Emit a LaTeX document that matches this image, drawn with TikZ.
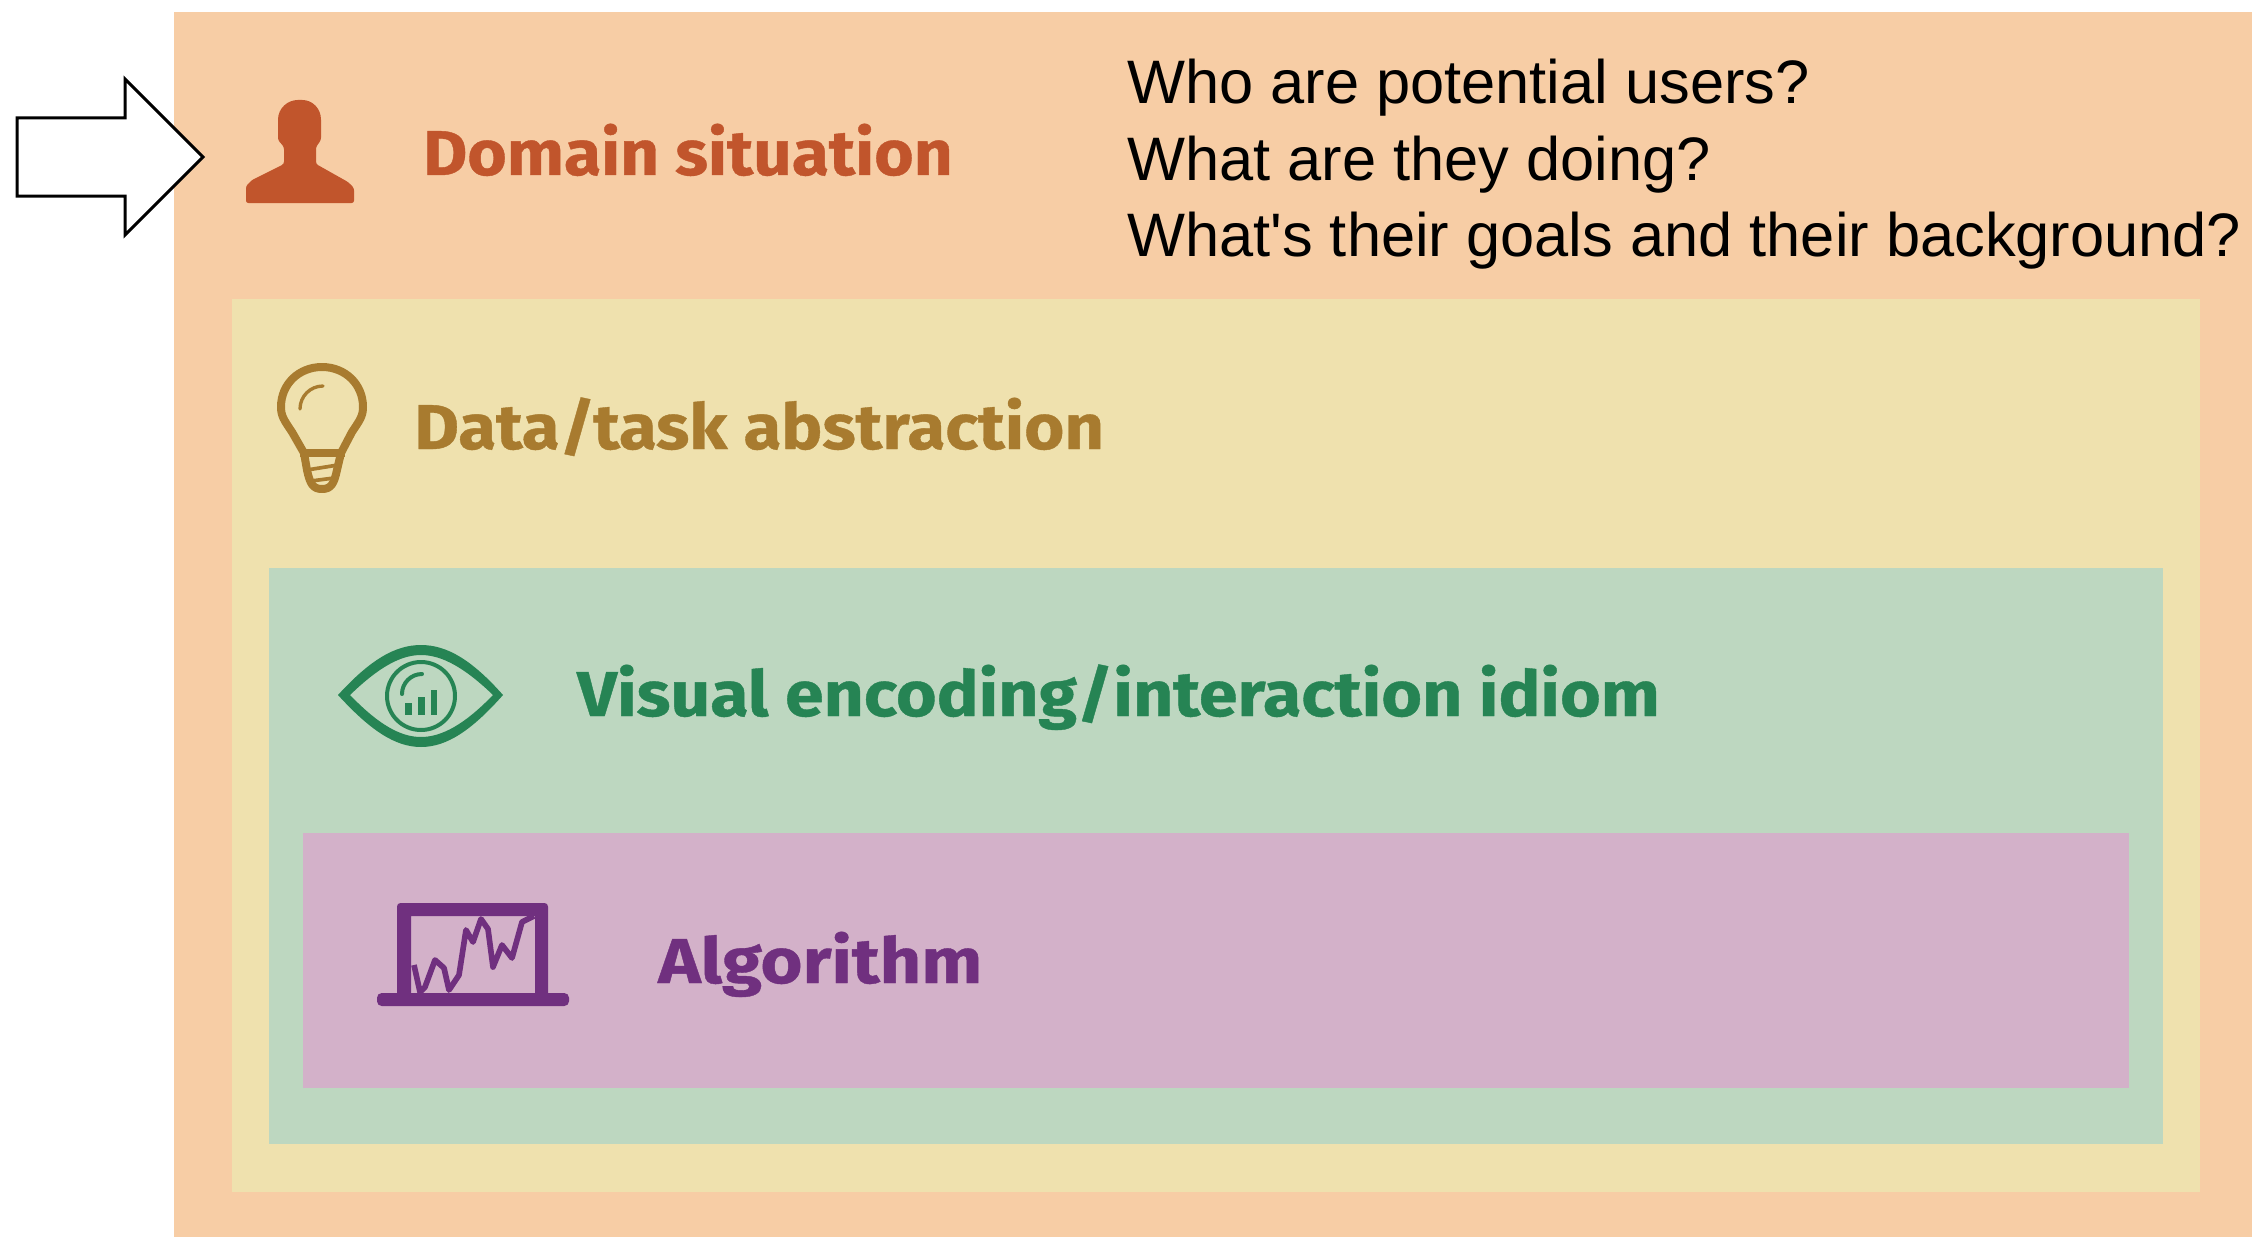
\documentclass[tikz,border=0pt]{standalone}
\usepackage{graphicx}
\usepackage{fontspec}
\setmainfont{Liberation Sans}
\newfontfamily\qfont{Liberation Sans}
\newfontfamily\headfont[FakeStretch=1.07,FakeBold=0.6]{Fira Sans}
\definecolor{cOrange}{HTML}{F7CDA5}
\definecolor{cYellow}{HTML}{EFE1AE}
\definecolor{cGreen}{HTML}{BDD7C0}
\definecolor{cPurple}{HTML}{D3B1C9}
\definecolor{tOrange}{HTML}{C1552C}
\definecolor{tGold}{HTML}{A87B2F}
\definecolor{tGreen}{HTML}{268454}
\definecolor{tPurple}{HTML}{70307F}
\tikzset{
  x=0.03cm,y=-0.03cm,
  band/.style={fill=#1,draw=none},
  title/.style={anchor=base west,inner sep=0pt,font=\headfont\bfseries\fontsize{54}{60}\selectfont,text=#1},
  question/.style={anchor=base west,inner sep=0pt,font=\qfont\fontsize{52.4}{60}\selectfont,text=black},
}
\begin{document}
\begin{tikzpicture}
\useasboundingbox (0,0) rectangle (2252,1237);
\fill[white] (0,0) rectangle (2252,1237);
% nested bands
\path[band=cOrange] (174,12) rectangle (2252,1237);
\path[band=cYellow] (232,299) rectangle (2200,1192);
\path[band=cGreen] (269,568) rectangle (2163,1144);
\path[band=cPurple] (303,833) rectangle (2129,1088);
% block arrow
\draw[black,line width=0.09cm,miter limit=10,fill=white] (17,118) -- (125,118) -- (125,79) -- (203,157) -- (125,235) -- (125,196) -- (17,196) -- cycle;
% person icon
\fill[tOrange,rounded corners=2pt] (246,203) -- (246,186) -- (252,180) -- (284,164) -- (284,147) -- (278,140) -- (278,122)
  .. controls (278,108) and (288,100) .. (300,100) .. controls (312,100) and (321,108) .. (321,122)
  -- (321,140) -- (316,147) -- (316,164) -- (348,182) -- (354,188) -- (354,203) -- cycle;
% bulb icon
\draw[tGold,line width=0.24cm,line join=round] (304,453) -- (292,432) .. controls (284,420) and (281,416) .. (281,407)
  .. controls (281,384) and (299,367) .. (322,367) .. controls (345,367) and (363,384) .. (363,407)
  .. controls (363,416) and (360,420) .. (352,432) -- (341,453)
  -- (337,470) .. controls (334,484) and (331,489) .. (322,489) .. controls (313,489) and (310,484) .. (307,470) -- cycle;
\fill[tGold] (300,449) rectangle (345,457);
\draw[tGold,line width=0.11cm] (307,470) -- (338,465);
\draw[tGold,line width=0.11cm] (311,481) -- (334,478);
\draw[tGold,line width=0.1cm,line cap=round] (300,409) arc[start angle=180,end angle=270,radius=23];
% eye icon
\fill[tGreen,even odd rule] (338,695) .. controls (370,660) and (395,645) .. (421,645) .. controls (447,645) and (472,660) .. (503,695)
  .. controls (472,730) and (447,747) .. (421,747) .. controls (395,747) and (370,730) .. (338,695) -- cycle
  (350,695) .. controls (378,668) and (400,655) .. (421,655) .. controls (442,655) and (465,668) .. (493,695)
  .. controls (465,724) and (442,737) .. (421,737) .. controls (400,737) and (378,724) .. (350,695) -- cycle;
\draw[tGreen,line width=0.12cm] (421,696) circle[radius=34];
\draw[tGreen,line width=0.12cm,line cap=round] (402,694) arc[start angle=180,end angle=270,radius=20];
\fill[tGreen] (405,703) rectangle (412,715);
\fill[tGreen] (418,697) rectangle (425,715);
\fill[tGreen] (431,690) rectangle (437,715);
% laptop icon
\fill[tPurple,even odd rule,rounded corners=3pt] (397,1000) -- (397,903) -- (548,903) -- (548,1000) -- cycle
  [sharp corners] (411,916) rectangle (535,995);
\fill[tPurple,rounded corners=4pt] (377,993) rectangle (569,1006);
\draw[tPurple,line width=0.17cm,line join=round] (414,965) -- (420,992) -- (425,987) -- (435,960) -- (444,968) -- (449,990) -- (459,975) -- (466,930) -- (473,942) -- (481,919) -- (488,929) -- (493,967) -- (502,945) -- (512,958) -- (522,922) -- (534,916);
% labels
\node[title=tOrange] (domain) at (423,175) {Domain situation};
\node[title=tGold] (data) at (414,449) {\scalebox{1.017}[1]{Data/task abstraction}};
\node[title=tGreen] (visual) at (577,716) {\scalebox{1.031}[1]{Visual encoding/interaction idiom}};
\node[title=tPurple] (algo) at (658,983) {\scalebox{1.066}[1]{Algorithm}};
\node[question] (q1) at (1127,104) {Who are potential users?};
\node[question] (q2) at (1127,180) {What are they doing?};
\node[question] (q3) at (1127,256) {What's their goals and their background?};
\end{tikzpicture}
\end{document}
